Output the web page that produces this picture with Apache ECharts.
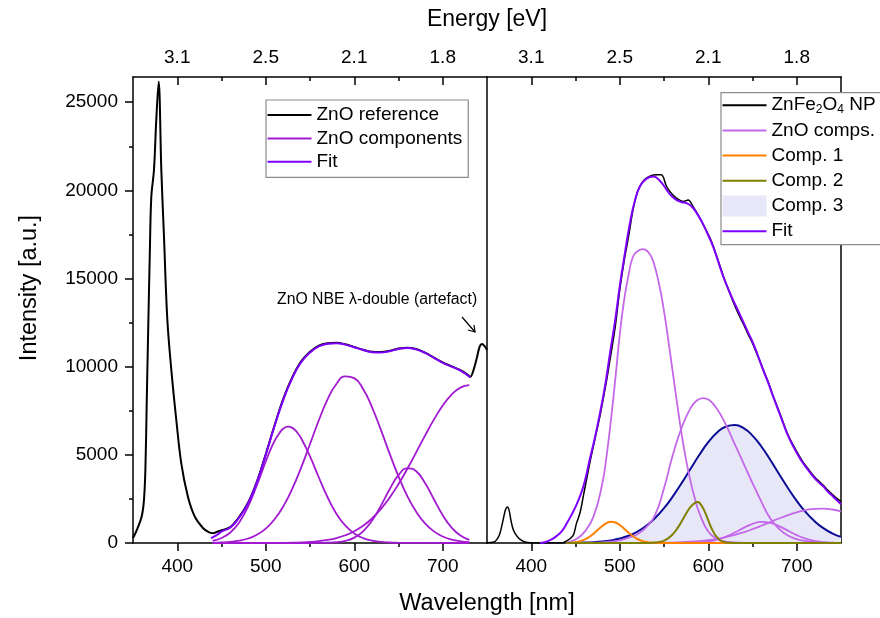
<!DOCTYPE html>
<html><head><meta charset="utf-8">
<script src="https://cdn.jsdelivr.net/npm/echarts@6/dist/echarts.min.js"></script>
<style>html,body{margin:0;padding:0;background:#fff}#c{width:880px;height:618px}</style>
</head><body><div id="c"></div>
<script>
// ---------- axis ticks / labels ----------
const wlTicks = [400, 500, 600, 700];
const wlMinorTicks = [450, 550, 650];
const energyLabels = ['3.1', '2.5', '2.1', '1.8'];
const yTicks = [0, 5000, 10000, 15000, 20000, 25000];
const yMinorTicks = [2500, 7500, 12500, 17500, 22500];
const yMax = 26430;

// ---------- left panel: ZnO reference ----------
const znoRefWl = [350,355,360,362.4,364,365.5,367,369,370.7,373.7,376.3,379,382,385,388.8,393.3,398.9,404.5,412,419.7,429,436,441,446,450,460,470,480,490,500,510,520,530,540,550,560,570,580,590,600,610,620,630,640,650,660,670,680,690,700,710,720,728,731,734.3,738,741.8,744.5,747.5,750];
const znoRef = [280,820,1550,2450,4150,7950,11700,16450,19650,21160,24000,26180,21160,17380,12660,9820,6990,4535,2640,1510,850,600,560,650,720,900,1480,2280,3480,5030,6680,8200,9400,10300,10850,11200,11330,11360,11270,11120,10960,10850,10830,10900,11030,11080,11000,10800,10520,10240,10020,9800,9550,9420,9730,10390,11150,11280,11150,10950];

const fitLWl = [438,445,450,460,470,480,490,500,510,520,530,540,550,560,570,580,590,600,610,620,630,640,650,660,670,680,690,700,710,720,731];
const fitL = [280,460,650,880,1450,2250,3450,5000,6650,8150,9350,10250,10800,11150,11300,11330,11250,11100,10950,10820,10800,10880,11000,11060,10980,10780,10500,10220,10000,9780,9400];

const compL1Wl = [440,450,460,470,480,490,500,505,510,515,520,525,530,535,540,550,560,570,580,590,600,610,620,630,640,650,660,670,730];
const compL1 = [128,285,598,1166,2065,3276,4620,5250,5796,6200,6490,6600,6530,6300,5940,4910,3715,2580,1650,980,540,280,137,64,28,12,5,2,0];
const compLWl = [440,450,460,470,480,490,500,510,520,530,540,550,560,570,580,590,600,610,620,630,640,650,660,670,680,690,700,710,720,730];
const compL2 = [12,29,63,130,254,469,817,1345,2093,3078,4276,5613,6962,8160,9036,9455,9349,8735,7710,6431,5069,3775,2656,1766,1109,659,370,196,98,46];
const compL3 = [0,0,0,0,0,0,0,0,0,0,0,0,5,13,42,121,304,665,1267,2105,3049,3850,4238,4067,3403,2482,1578,875,423,178];
const compL4 = [0,0,0,0,1,1,3,5,10,19,35,61,105,174,281,439,664,976,1390,1921,2573,3342,4211,5144,6092,6996,7793,8416,8813,8950];

// ---------- right panel: ZnFe2O4 NP ----------
const npWl = [350,358,361,364,366.6,369,371,373,375,377,379.7,383,387,394,400,410,420,430,436,441,445,448,451,455,459,466,472,478,484,489,495,500,505,510,515,520,525,530,536,541.6,547,552.9,558,564,571.7,577.3,583,590.5,600,605.6,611,617,622.5,628,634,639.4,645,650.7,656,662,668,673.3,679,684.6,690,696,701.5,707,713,718.5,724,730,735,741,746,750];
const npInt = [20,60,190,450,940,1500,1900,2040,1850,1300,750,450,225,40,10,0,0,0,20,150,300,500,1100,1700,2700,4500,5900,7300,8900,10400,12300,14360,16000,17400,18890,19900,20420,20690,20850,20880,20880,20220,19850,19560,19370,19460,19080,18430,17500,16850,16050,15150,14400,13700,13000,12450,11850,11250,10600,9850,9100,8350,7600,6850,6150,5550,5050,4600,4200,3850,3550,3280,3000,2720,2500,2350];

const fitRWl = [410,415,420,425,430,435,440,445,450,455,460,466,472,478,484,489,495,500,506,511.5,517,523,530,537.8,545,553,558,564,570,575.5,581,587,593,600,605.6,611,617,622.5,628,634,639.4,645,650.7,656,662,668,673.3,679,684.6,690,696,701.5,707,713,718.5,724,730,735,741,746,750];
const fitR = [0,40,130,260,450,700,1100,1550,2050,2640,3400,4720,6000,7450,9100,10770,12700,14550,16500,18140,19400,20250,20650,20780,20560,20030,19700,19460,19330,19280,19100,18710,18200,17450,16800,16000,15110,14420,13790,13150,12560,11950,11340,10650,9820,9050,8310,7550,6800,6100,5480,4980,4535,4130,3780,3480,3210,2920,2640,2390,2200];

const compR1Wl = [440,450,460,470,480,485,490,495,500,505,510,515,520,526.5,533,538,545,550,555,560,565,570,575,580,585,590,600,610,620,630,640,650,750];
const compR1 = [30,200,620,1450,3300,4900,6960,9300,11800,13800,15220,16250,16550,16670,16450,15950,14550,13150,11450,9650,7850,6150,4700,3500,2500,1700,650,230,80,30,10,0,0];
const compR2Wl = [440,460,470,480,490,500,510,520,530,540,550,560,570,580,587,594,601,610,620,630,640,650,660,670,680,690,700,710,720,730,740,750];
const compR2 = [0,10,20,40,80,150,300,500,900,1600,3100,5000,6550,7650,8080,8220,8110,7600,6700,5600,4500,3400,2350,1400,800,420,220,110,50,20,10,0];
const compRWl = [440,450,460,470,480,490,500,510,520,530,540,550,560,570,580,590,600,610,620,630,640,650,660,670,680,690,700,710,720,730,740,750];
const compR3 = [0,0,0,0,0,0,0,0,0,0,0,0,2,4,12,34,86,188,358,594,861,1087,1197,1148,961,701,446,247,119,50,18,6];
const compR4 = [0,0,0,0,0,0,1,1,2,4,8,15,26,43,70,109,163,237,335,458,608,783,977,1183,1388,1580,1743,1865,1935,1947,1900,1798];

const comp1Wl = [440,445,450,455,460,465,470,475,480,485,490,495,500,505,510,515,520,525,530,535,540,545,550,600,750];
const comp1 = [0,20,46,98,188,327,516,737,955,1124,1199,1159,1017,809,584,382,227,122,60,26,11,4,0,0,0];

const comp2Wl = [440,500,530,540,545,550,555,560,565,570,575,580,585,588,590,595,600,605,610,615,620,625,630,680,750];
const comp2 = [0,0,0,30,63,138,277,503,826,1232,1668,2047,2280,2320,2282,1895,1280,703,314,114,34,8,0,0,0];

const comp3Wl = [440,450,460,470,480,490,500,510,520,530,540,550,560,570,580,590,600,610,620,630,640,650,660,670,680,690,700,710,720,730,740,750];
const comp3 = [6,12,23,45,83,147,250,410,645,974,1414,1972,2643,3403,4210,5004,5715,6271,6610,6696,6516,6093,5474,4725,3918,3122,2389,1757,1242,843,550,345];

// ---------- build ----------
const FONT = "'Liberation Sans', Arial, Helvetica, sans-serif";
const BLACK_LINE = {color: '#000', width: 1.5};
const zip = (xs, ys) => xs.map((x, i) => [x, ys[i]]);
const LINE_ICON_L = 'path://M0,0h0.01v0.01h-0.01Z M0,6H44V8H0Z M43.99,13.99h0.01v0.01h-0.01Z';
const LINE_ICON_R = 'path://M0,0h0.01v0.01h-0.01Z M0,9.5H44V11.5H0Z M43.99,20.99h0.01v0.01h-0.01Z';

const C_FIT = '#8000ff', C_ZNO_L = '#a21ad0', C_ZNO_R = '#c468ea';

function xAxes(g) {
  const base = {type: 'value', gridIndex: g, min: 350, max: 750, splitLine: {show: false}};
  const lbl = {color: '#000', fontSize: 19, fontFamily: FONT};
  return [
    Object.assign({}, base, {position: 'bottom',
      axisLine: {show: true, onZero: false, lineStyle: BLACK_LINE},
      axisTick: {show: true, customValues: wlTicks, length: 8, lineStyle: BLACK_LINE},
      axisLabel: Object.assign({show: true, customValues: wlTicks, margin: 14, formatter: v => String(v)}, lbl)}),
    Object.assign({}, base, {position: 'bottom',
      axisLine: {show: false, onZero: false},
      axisTick: {show: true, customValues: wlMinorTicks, length: 4, lineStyle: BLACK_LINE},
      axisLabel: {show: false}}),
    Object.assign({}, base, {position: 'top',
      axisLine: {show: true, onZero: false, lineStyle: BLACK_LINE},
      axisTick: {show: true, inside: true, customValues: wlTicks, length: 8, lineStyle: BLACK_LINE},
      axisLabel: Object.assign({show: true, customValues: wlTicks, margin: 10,
        formatter: v => energyLabels[wlTicks.indexOf(v)]}, lbl)}),
    Object.assign({}, base, {position: 'top',
      axisLine: {show: false, onZero: false},
      axisTick: {show: true, inside: true, customValues: wlMinorTicks, length: 4, lineStyle: BLACK_LINE},
      axisLabel: {show: false}})
  ];
}

function ser(name, xs, ys, color, width, right, extra) {
  return Object.assign({
    type: 'line', name: name,
    xAxisIndex: right ? 4 : 0, yAxisIndex: right ? 2 : 0,
    data: zip(xs, ys), showSymbol: false, symbol: 'none', smooth: 0.5,
    lineStyle: {color: color, width: width}, itemStyle: {color: color},
    emphasis: {disabled: true}, silent: true
  }, extra || {});
}

const chart = echarts.init(document.getElementById('c'), null, {renderer: 'canvas', width: 880, height: 618});

const option = {
  animation: false,
  backgroundColor: '#fff',
  grid: [
    {left: 133, top: 77, width: 354, height: 466, outerBoundsMode: 'none'},
    {left: 487, top: 77, width: 354, height: 466, outerBoundsMode: 'none'}
  ],
  xAxis: xAxes(0).concat(xAxes(1)),
  yAxis: [
    {type: 'value', gridIndex: 0, min: 0, max: yMax, position: 'left', splitLine: {show: false},
      axisLine: {show: true, onZero: false, lineStyle: BLACK_LINE},
      axisTick: {show: true, customValues: yTicks, length: 8, lineStyle: BLACK_LINE},
      axisLabel: {show: true, customValues: yTicks, margin: 15, color: '#000', fontSize: 19, fontFamily: FONT,
        formatter: v => String(v)}},
    {type: 'value', gridIndex: 0, min: 0, max: yMax, position: 'left', splitLine: {show: false},
      axisLine: {show: false, onZero: false},
      axisTick: {show: true, customValues: yMinorTicks, length: 4, lineStyle: BLACK_LINE},
      axisLabel: {show: false}},
    {type: 'value', gridIndex: 1, min: 0, max: yMax, position: 'left', splitLine: {show: false},
      axisLine: {show: true, onZero: false, lineStyle: BLACK_LINE},
      axisTick: {show: false}, axisLabel: {show: false}},
    {type: 'value', gridIndex: 1, min: 0, max: yMax, position: 'right', splitLine: {show: false},
      axisLine: {show: true, onZero: false, lineStyle: BLACK_LINE},
      axisTick: {show: false}, axisLabel: {show: false}}
  ],
  legend: [
    {orient: 'vertical', left: 266, top: 100, itemWidth: 44, itemHeight: 14, itemGap: 4.4,
      padding: [5.5, 6, 6, 1.5], borderColor: '#8c8c8c', borderWidth: 1.2, backgroundColor: '#fff',
      selectedMode: false, itemStyle: {borderWidth: 0},
      textStyle: {fontSize: 19, color: '#000', fontFamily: FONT},
      data: [{name: 'ZnO reference', icon: LINE_ICON_L}, {name: 'ZnO components', icon: LINE_ICON_L}, {name: 'Fit', icon: LINE_ICON_L}]},
    {orient: 'vertical', left: 721, top: 92.7, itemWidth: 44, itemHeight: 21, itemGap: 4.2,
      padding: [2, 12, 3, 1.5], borderColor: '#8c8c8c', borderWidth: 1.2, backgroundColor: '#fff',
      selectedMode: false, itemStyle: {borderWidth: 0},
      formatter: n => n === 'ZnFe2O4 NP' ? 'ZnFe{s|2}O{s|4} NP' : n,
      textStyle: {fontSize: 19, lineHeight: 20, color: '#000', fontFamily: FONT,
        rich: {s: {fontSize: 12, lineHeight: 6, verticalAlign: 'bottom', color: '#000', fontFamily: FONT}}},
      data: [
        {name: 'ZnFe2O4 NP', icon: LINE_ICON_R},
        {name: 'ZnO comps.', icon: LINE_ICON_R},
        {name: 'Comp. 1', icon: LINE_ICON_R},
        {name: 'Comp. 2', icon: LINE_ICON_R},
        {name: 'Comp. 3', icon: 'rect', itemStyle: {color: '#e7e7f8', borderWidth: 0}},
        {name: 'Fit', icon: LINE_ICON_R}
      ]}
  ],
  series: [
    ser('ZnO reference', znoRefWl, znoRef, '#000', 2, false, {smooth: 0.35}),
    ser('ZnO components', compL1Wl, compL1, C_ZNO_L, 1.8, false),
    ser('ZnO components', compLWl, compL2, C_ZNO_L, 1.8, false),
    ser('ZnO components', compLWl, compL3, C_ZNO_L, 1.8, false),
    ser('ZnO components', compLWl, compL4, C_ZNO_L, 1.8, false),
    ser('Fit', fitLWl, fitL, C_FIT, 2, false),

    ser('Comp. 3', comp3Wl, comp3, '#0b0b95', 2, true, {areaStyle: {color: '#e7e7f8', opacity: 1}}),
    ser('ZnO comps.', compR1Wl, compR1, C_ZNO_R, 1.8, true),
    ser('ZnO comps.', compR2Wl, compR2, C_ZNO_R, 1.8, true),
    ser('ZnO comps.', compRWl, compR3, C_ZNO_R, 1.8, true),
    ser('ZnO comps.', compRWl, compR4, C_ZNO_R, 1.8, true),
    ser('Comp. 1', comp1Wl, comp1, '#ff8000', 2, true),
    ser('Comp. 2', comp2Wl, comp2, '#808000', 2, true),
    ser('ZnFe2O4 NP', npWl, npInt, '#000', 1.5, true, {smooth: 0.35}),
    ser('Fit', fitRWl, fitR, C_FIT, 2, true)
  ],
  graphic: [
    {type: 'text', x: 487, y: 20, silent: true,
      style: {text: 'Energy [eV]', fontSize: 23, fontFamily: FONT, fill: '#000', align: 'center', verticalAlign: 'middle'}},
    {type: 'text', x: 487, y: 604, silent: true,
      style: {text: 'Wavelength [nm]', fontSize: 23.5, fontFamily: FONT, fill: '#000', align: 'center', verticalAlign: 'middle'}},
    {type: 'text', x: 30, y: 288, rotation: Math.PI / 2, silent: true,
      style: {text: 'Intensity [a.u.]', fontSize: 23.5, fontFamily: FONT, fill: '#000', align: 'center', verticalAlign: 'middle'}},
    {type: 'text', x: 277, y: 300, silent: true,
      style: {text: 'ZnO NBE \u03bb-double (artefact)', fontSize: 15.8, fontFamily: FONT, fill: '#000', align: 'left', verticalAlign: 'middle'}},
    {type: 'line', silent: true, shape: {x1: 462, y1: 317, x2: 475, y2: 332}, style: {stroke: '#000', lineWidth: 1.2}},
    {type: 'polyline', silent: true, shape: {points: [[468, 330], [475, 332], [474, 325]]}, style: {stroke: '#000', lineWidth: 1.2, fill: null}}
  ]
};
chart.setOption(option);
</script>
</body></html>
